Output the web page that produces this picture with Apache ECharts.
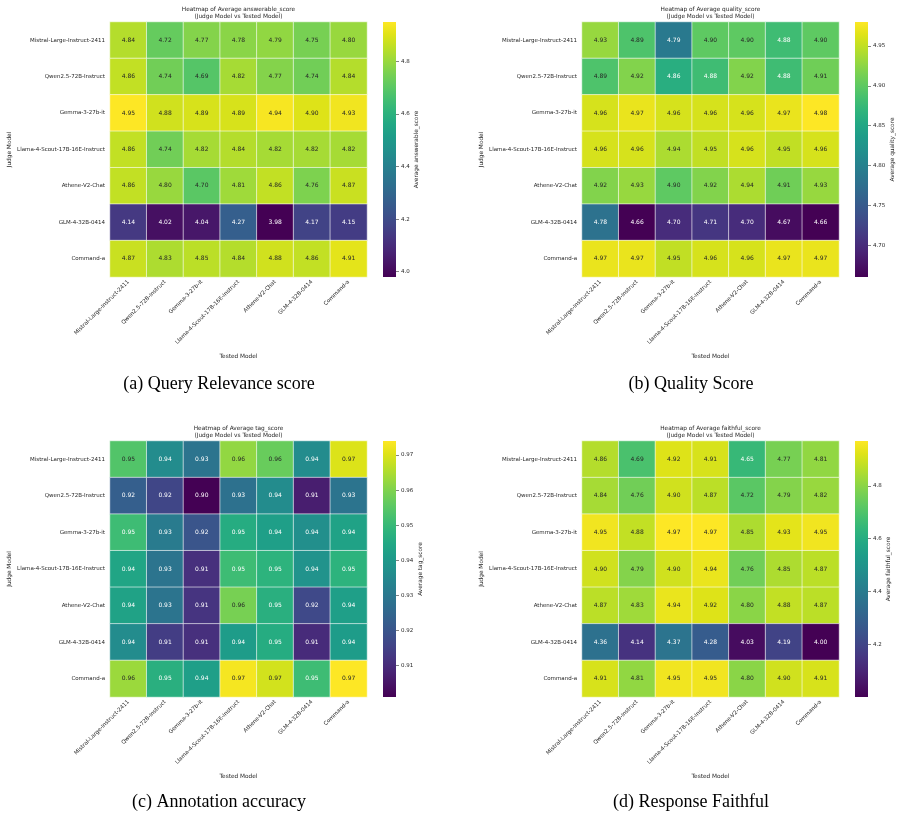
<!DOCTYPE html>
<html>
<head>
<meta charset="utf-8">
<script src="https://cdn.jsdelivr.net/npm/echarts@6/dist/echarts.min.js"></script>
<style>
  html, body { margin: 0; padding: 0; background: #fff; }
  #main { width: 900px; height: 818px; }
</style>
</head>
<body>
<div id="main"></div>
<script>
// models (rows = judge, columns = tested)
const models = ['Mistral-Large-Instruct-2411', 'Qwen2.5-72B-Instruct', 'Gemma-3-27b-it',
  'Llama-4-Scout-17B-16E-Instruct', 'Athene-V2-Chat', 'GLM-4-32B-0414', 'Command-a']

const answerable = [
  [4.84, 4.72, 4.77, 4.78, 4.79, 4.75, 4.80],
  [4.86, 4.74, 4.69, 4.82, 4.77, 4.74, 4.84],
  [4.95, 4.88, 4.89, 4.89, 4.94, 4.90, 4.93],
  [4.86, 4.74, 4.82, 4.84, 4.82, 4.82, 4.82],
  [4.86, 4.80, 4.70, 4.81, 4.86, 4.76, 4.87],
  [4.14, 4.02, 4.04, 4.27, 3.98, 4.17, 4.15],
  [4.87, 4.83, 4.85, 4.84, 4.88, 4.86, 4.91]
]
const quality = [
  [4.93, 4.89, 4.79, 4.90, 4.90, 4.88, 4.90],
  [4.89, 4.92, 4.86, 4.88, 4.92, 4.88, 4.91],
  [4.96, 4.97, 4.96, 4.96, 4.96, 4.97, 4.98],
  [4.96, 4.96, 4.94, 4.95, 4.96, 4.95, 4.96],
  [4.92, 4.93, 4.90, 4.92, 4.94, 4.91, 4.93],
  [4.78, 4.66, 4.70, 4.71, 4.70, 4.67, 4.66],
  [4.97, 4.97, 4.95, 4.96, 4.96, 4.97, 4.97]
]
// third decimal
const tag = [
  [0.954, 0.936, 0.929, 0.962, 0.957, 0.936, 0.970],
  [0.923, 0.916, 0.901, 0.928, 0.936, 0.907, 0.929],
  [0.951, 0.931, 0.920, 0.946, 0.942, 0.937, 0.943],
  [0.944, 0.929, 0.911, 0.951, 0.948, 0.938, 0.948],
  [0.943, 0.929, 0.912, 0.959, 0.947, 0.917, 0.942],
  [0.936, 0.914, 0.911, 0.941, 0.946, 0.910, 0.941],
  [0.963, 0.947, 0.942, 0.973, 0.969, 0.951, 0.974]
]
const faithful = [
  [4.86, 4.69, 4.92, 4.91, 4.65, 4.77, 4.81],
  [4.84, 4.76, 4.90, 4.87, 4.72, 4.79, 4.82],
  [4.95, 4.88, 4.97, 4.97, 4.85, 4.93, 4.95],
  [4.90, 4.79, 4.90, 4.94, 4.76, 4.85, 4.87],
  [4.87, 4.83, 4.94, 4.92, 4.80, 4.88, 4.87],
  [4.36, 4.14, 4.37, 4.28, 4.03, 4.19, 4.00],
  [4.91, 4.81, 4.95, 4.95, 4.80, 4.90, 4.91]
]

// colorbar tick labels
const answerableTicks = [4.0, 4.2, 4.4, 4.6, 4.8]
const qualityTicks = [4.70, 4.75, 4.80, 4.85, 4.90, 4.95]
const tagTicks = [0.91, 0.92, 0.93, 0.94, 0.95, 0.96, 0.97]
const faithfulTicks = [4.2, 4.4, 4.6, 4.8]

const viridis = ['#440154', '#471365', '#482475', '#463480', '#414487', '#3b528b', '#355f8d',
  '#2f6c8e', '#2a788e', '#25848e', '#21918c', '#1e9c89', '#22a884', '#2fb47c', '#44bf70',
  '#5ec962', '#7ad151', '#9bd93c', '#bddf26', '#dfe318', '#fde725']

const FONT = 'DejaVu Sans'
const TXT = '#262626'

function hexRgb(h) {
  return [parseInt(h.slice(1, 3), 16), parseInt(h.slice(3, 5), 16), parseInt(h.slice(5, 7), 16)]
}
function viridisAt(t) {
  t = Math.max(0, Math.min(1, t))
  const p = t * (viridis.length - 1)
  const i = Math.min(Math.floor(p), viridis.length - 2)
  const f = p - i
  const a = hexRgb(viridis[i])
  const b = hexRgb(viridis[i + 1])
  return a.map((v, k) => v + (b[k] - v) * f)
}
// same rule seaborn uses to pick annotation colour
function textColor(t) {
  const lin = viridisAt(t).map(c => {
    c = c / 255
    return c <= 0.03928 ? c / 12.92 : Math.pow((c + 0.055) / 1.055, 2.4)
  })
  const lum = 0.2126 * lin[0] + 0.7152 * lin[1] + 0.0722 * lin[2]
  return lum > 0.408 ? TXT : '#ffffff'
}

const panels = [
  { name: 'answerable_score', data: answerable, ticks: answerableTicks, dec: 1,
    caption: '(a) Query Relevance score', left: 110, top: 22, height: 255, capTop: 375 },
  { name: 'quality_score', data: quality, ticks: qualityTicks, dec: 2,
    caption: '(b) Quality Score', left: 582, top: 22, height: 255, capTop: 375 },
  { name: 'tag_score', data: tag, ticks: tagTicks, dec: 2,
    caption: '(c) Annotation accuracy', left: 110, top: 441, height: 256, capTop: 793 },
  { name: 'faithful_score', data: faithful, ticks: faithfulTicks, dec: 1,
    caption: '(d) Response Faithful', left: 582, top: 441, height: 256, capTop: 793 }
]

const grid = []
const xAxis = []
const yAxis = []
const series = []
const visualMap = []
const title = []

panels.forEach((p, k) => {
  const flat = p.data.flat()
  const vmin = Math.min(...flat)
  const vmax = Math.max(...flat)
  const w = 257
  const cx = p.left + w / 2

  // heatmap grid
  grid.push({ left: p.left, top: p.top, width: w, height: p.height })
  xAxis.push({
    gridIndex: k, type: 'category', data: models,
    name: 'Tested Model', nameLocation: 'middle', nameGap: 76,
    nameTextStyle: { fontFamily: FONT, fontSize: 5.8, color: TXT },
    axisLine: { show: false }, axisTick: { show: false }, splitLine: { show: false },
    axisLabel: { rotate: 45, interval: 0, margin: 4, fontFamily: FONT, fontSize: 5.5, color: TXT }
  })
  yAxis.push({
    gridIndex: k, type: 'category', data: models, inverse: true,
    name: 'Judge Model', nameLocation: 'middle', nameGap: 98, nameRotate: 90,
    nameTextStyle: { fontFamily: FONT, fontSize: 5.8, color: TXT },
    axisLine: { show: false }, axisTick: { show: false }, splitLine: { show: false },
    axisLabel: { interval: 0, margin: 5, fontFamily: FONT, fontSize: 5.5, color: TXT }
  })

  const cells = []
  p.data.forEach((row, r) => {
    row.forEach((v, c) => {
      cells.push({ value: [c, r, v], label: { color: textColor((v - vmin) / (vmax - vmin)) } })
    })
  })
  series.push({
    type: 'heatmap', xAxisIndex: k, yAxisIndex: k, data: cells,
    itemStyle: { borderColor: 'rgba(255,255,255,0.75)', borderWidth: 0.8 },
    label: { show: true, fontFamily: FONT, fontSize: 6,
      formatter: d => d.value[2].toFixed(2) },
    emphasis: { disabled: true }
  })
  visualMap.push({
    show: false, type: 'continuous', seriesIndex: k, dimension: 2,
    min: vmin, max: vmax, inRange: { color: viridis }
  })

  title.push({
    text: 'Heatmap of Average ' + p.name + '\n(Judge Model vs Tested Model)',
    left: cx, top: p.top - 16.5, textAlign: 'center', padding: 0,
    textStyle: { fontFamily: FONT, fontSize: 5.8, lineHeight: 7.4, fontWeight: 'normal', color: TXT }
  })
  title.push({
    text: p.caption, left: cx - 19.5, top: p.capTop, textAlign: 'center', padding: 0,
    textStyle: { fontFamily: 'Liberation Serif', fontSize: 18, fontWeight: 'normal', color: '#000' }
  })
})

// colorbars, one grid each, ticks on a value axis
panels.forEach((p, k) => {
  const flat = p.data.flat()
  const vmin = Math.min(...flat)
  const vmax = Math.max(...flat)
  const gi = 4 + k
  grid.push({
    left: p.left + 273, top: p.top, width: 13, height: p.height, show: true, borderWidth: 0,
    backgroundColor: {
      type: 'linear', x: 0, y: 0, x2: 0, y2: 1,
      colorStops: viridis.slice().reverse().map((c, i) => ({ offset: i / (viridis.length - 1), color: c }))
    }
  })
  xAxis.push({ gridIndex: gi, type: 'value', show: false, min: 0, max: 1 })
  yAxis.push({
    gridIndex: gi, type: 'value', position: 'right', min: vmin, max: vmax,
    name: 'Average ' + p.name, nameLocation: 'middle', nameGap: 17, nameRotate: 90,
    nameTextStyle: { fontFamily: FONT, fontSize: 5.8, color: TXT },
    axisLine: { show: false, onZero: false }, splitLine: { show: false },
    axisTick: { show: true, inside: false, length: 3, customValues: p.ticks, lineStyle: { color: '#333', width: 0.6 } },
    axisLabel: { customValues: p.ticks, margin: 5, fontFamily: FONT, fontSize: 5.5, color: TXT,
      formatter: v => Number(v).toFixed(p.dec) }
  })
})

const myChart = echarts.init(document.getElementById('main'))
myChart.setOption({
  animation: false,
  backgroundColor: '#fff',
  title: title,
  grid: grid,
  xAxis: xAxis,
  yAxis: yAxis,
  visualMap: visualMap,
  series: series
})
</script>
</body>
</html>
